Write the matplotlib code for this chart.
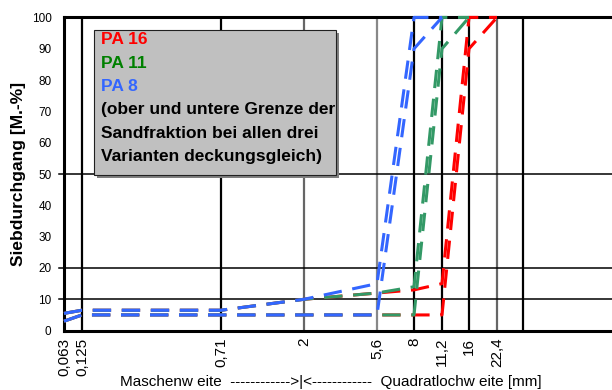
import numpy as np
import matplotlib.pyplot as plt
from matplotlib.patches import Rectangle

plt.rcParams['font.family'] = ['Liberation Sans', 'DejaVu Sans']

# sieve sizes [mm] and labels on the x axis
sieves = [0.063, 0.125, 0.71, 2, 5.6, 8, 11.2, 16, 22.4]
tick_labels = ['0,063', '0,125', '0,71', '2', '5,6', '8', '11,2', '16', '22,4']

# PA 16 (upper / lower limit)
pa16_sieve = [0.063, 0.125, 0.71, 2, 5.6, 8, 11.2, 16, 22.4]
pa16_upper = [5.5, 6.5, 6.5, 10, 12, 13, 15, 100, 100]
pa16_lower = [3, 5, 5, 5, 5, 5, 5, 90, 100]

# PA 11
pa11_sieve = [0.063, 0.125, 0.71, 2, 5.6, 8, 11.2, 16]
pa11_upper = [5.5, 6.5, 6.5, 10, 12, 14, 100, 100]
pa11_lower = [3, 5, 5, 5, 5, 5, 90, 100]

# PA 8
pa8_sieve = [0.063, 0.125, 0.71, 2, 5.6, 8, 11.2]
pa8_upper = [5.5, 6.5, 6.5, 10, 15, 100, 100]
pa8_lower = [3, 5, 5, 5, 5, 90, 100]

# x axis is not a plain log axis -> piecewise scale
scale_mm = [0.063, 0.125, 0.71, 2, 5.6, 8, 11.2, 16, 22.4, 31.5, 63]
scale_pos = [64, 82, 221, 304, 377, 414, 442, 469, 497, 523, 612]


def fwd(x):
    x = np.clip(np.asarray(x, dtype=float), 1e-6, None)
    return np.interp(np.log10(x), np.log10(scale_mm), scale_pos)


def inv(p):
    return 10 ** np.interp(p, scale_pos, np.log10(scale_mm))


W, H = 612, 390
fig = plt.figure(figsize=(W / 100, H / 100), dpi=100)
ax = fig.add_axes([64 / W, (H - 330.6) / H, 1 - 64 / W, 313.2 / H])
ax.set_xscale('function', functions=(fwd, inv))
ax.set_xlim(0.063, 63)
ax.set_ylim(0, 100)

# vertical grid
vgrid = sieves[1:] + [31.5]
vcol = ['k', 'k', '#666666', '#888888', 'k', 'k', 'k', '#666666', 'k']
for s, c in zip(vgrid, vcol):
    ax.axvline(s, color=c, lw=1.6, zorder=1)
# horizontal grid (only 10, 20, 50)
for y in [10, 20, 50]:
    ax.axhline(y, xmin=-5 / 548, xmax=1, color='k', lw=1.1, clip_on=False, zorder=1)

dash = (6, 3.5)
lw = 2.2
for xs, up, lo, col in [(pa16_sieve, pa16_upper, pa16_lower, '#FF0000'),
                        (pa11_sieve, pa11_upper, pa11_lower, '#339966'),
                        (pa8_sieve, pa8_upper, pa8_lower, '#3366FF')]:
    ax.plot(xs, up, color=col, lw=lw, dashes=dash, zorder=3, clip_on=False)
    ax.plot(xs, lo, color=col, lw=lw, dashes=dash, zorder=3, clip_on=False)

ax.set_xticks(sieves)
ax.set_xticklabels(tick_labels, rotation=90, fontsize=11)
ax.xaxis.set_minor_locator(plt.NullLocator())
ax.set_yticks(range(0, 101, 10))
ax.set_yticklabels([str(v) for v in range(0, 101, 10)], fontsize=8.5)
ax.tick_params(axis='x', length=0, pad=5)
ax.tick_params(axis='y', length=0, pad=9)

for side in ['left', 'bottom', 'top']:
    ax.spines[side].set_linewidth(2.2)
ax.spines['right'].set_visible(False)

fig.text(19 / W, 0.5 * ((H - 330.6) / H + (H - 17.4) / H), 'Siebdurchgang [M.-%]',
         rotation=90, ha='center', va='center', fontsize=12.5, fontweight='bold')
fig.text(120 / W, (H - 382) / H,
         'Maschenw eite  ------------>|<------------  Quadratlochw eite [mm]',
         ha='left', va='center', fontsize=11)

# annotation box
bx, by, bw, bh = 94, 30, 242, 145
shadow = Rectangle(((bx + 3) / W, (H - by - bh - 3) / H), bw / W, bh / H,
                   transform=fig.transFigure, facecolor='#7f7f7f', edgecolor='none', zorder=5)
box = Rectangle((bx / W, (H - by - bh) / H), bw / W, bh / H,
                transform=fig.transFigure, facecolor='#C0C0C0', edgecolor='#202020',
                lw=0.8, zorder=6)
fig.add_artist(shadow)
fig.add_artist(box)

box_lines = [('PA 16', '#FF0000'), ('PA 11', '#008000'), ('PA 8', '#3366FF'),
             ('(ober und untere Grenze der', 'k'), ('Sandfraktion bei allen drei', 'k'),
             ('Varianten deckungsgleich)', 'k')]
for i, (t, c) in enumerate(box_lines):
    fig.text(101 / W, (H - (40 + 23.3 * i)) / H, t, color=c, fontsize=12.5,
             fontweight='bold', ha='left', va='center', zorder=7)

fig.savefig('out.png', dpi=100)
